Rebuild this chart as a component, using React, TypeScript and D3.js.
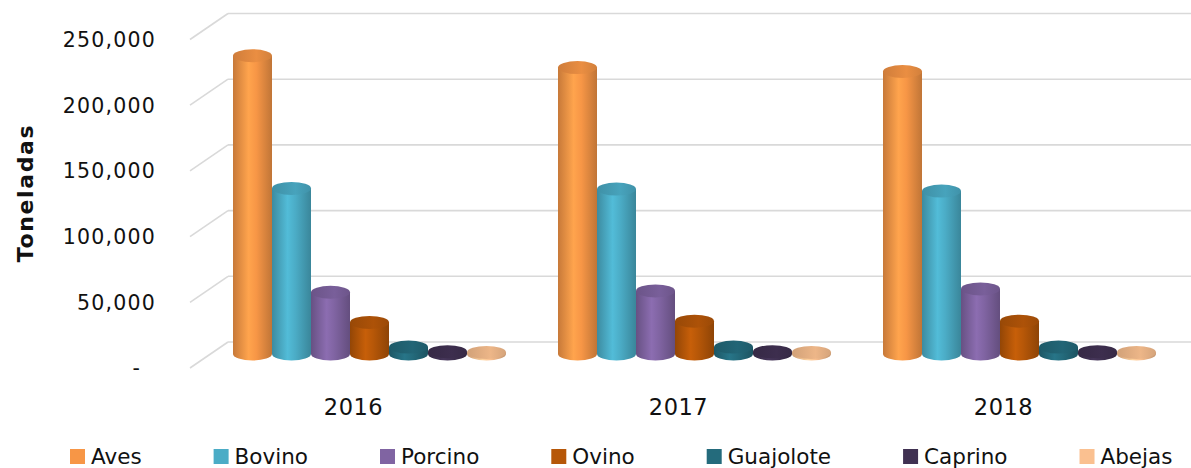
import { useLayoutEffect, useRef, useState } from "react";
import * as d3 from "d3";

const W = 1191;
const H = 468;
const FONT = "DejaVu Sans, Verdana, sans-serif";

const years = ["2016", "2017", "2018"];
const species = ["Aves", "Bovino", "Porcino", "Ovino", "Guajolote", "Caprino", "Abejas"];
const colors = ["#f79646", "#4bacc6", "#8064a2", "#b65708", "#246b7c", "#403152", "#fac090"];

// tons per species, one array per year
const values2016 = [227000, 126000, 47000, 24000, 5300, 1800, 1200];
const values2017 = [218000, 125500, 48000, 25000, 5300, 1800, 1200];
const values2018 = [215000, 124000, 49500, 25000, 5300, 1800, 1200];
const valuesByYear = [values2016, values2017, values2018];

const yTicks = [0, 50000, 100000, 150000, 200000, 250000];

// pseudo 3d frame
const DEPTH_X = 38;
const DEPTH_Y = 26;
const BACK_LEFT = 228;
const BAR_SHIFT = 12; // bars stand in the middle of the floor
const RY = 6.5;

const App = () => {
  const y = d3.scaleLinear().domain([0, 250000]).range([342, 13.5]);
  const x0 = d3.scaleBand().domain(years).range([207, 1182]).paddingInner(0.16).paddingOuter(0.08);
  const x1 = d3.scaleBand().domain(species).range([0, x0.bandwidth()]);
  const fmt = d3.format(",");

  const textRefs = useRef<(SVGTextElement | null)[]>([]);
  const [widths, setWidths] = useState<number[]>(species.map((s) => s.length * 13));

  useLayoutEffect(() => {
    const w = textRefs.current.map((t, i) => (t ? t.getComputedTextLength() : widths[i]));
    setWidths(w);
  }, []);

  const legendPos: number[] = [];
  let cx = 70;
  species.forEach((s, i) => {
    legendPos.push(cx);
    cx += 15 + 6 + widths[i] + 72;
  });

  const rx = x1.bandwidth() / 2;

  return (
    <svg width={W} height={H} style={{ position: "absolute", left: 0, top: 0, background: "#fff" }}>
      <defs>
        {colors.map((c, i) => {
          const base = d3.color(c)!;
          return (
            <g key={i}>
              <linearGradient id={`body${i}`} x1="0" x2="1" y1="0" y2="0">
                <stop offset="0%" stopColor={base.darker(0.6).formatHex()} />
                <stop offset="40%" stopColor={base.brighter(0.25).formatHex()} />
                <stop offset="60%" stopColor={base.formatHex()} />
                <stop offset="100%" stopColor={base.darker(0.7).formatHex()} />
              </linearGradient>
              <linearGradient id={`top${i}`} x1="0" x2="1" y1="0" y2="0">
                <stop offset="0%" stopColor={base.darker(0.5).formatHex()} />
                <stop offset="60%" stopColor={base.darker(0.15).formatHex()} />
                <stop offset="100%" stopColor={base.darker(0.45).formatHex()} />
              </linearGradient>
            </g>
          );
        })}
      </defs>

      {/* gridlines: back wall + side wall */}
      {yTicks.map((t) => (
        <g key={t} stroke="#d9d9d9" strokeWidth={1.6} fill="none">
          <line x1={BACK_LEFT} x2={W} y1={y(t)} y2={y(t)} />
          <line x1={BACK_LEFT - DEPTH_X} y1={y(t) + DEPTH_Y} x2={BACK_LEFT} y2={y(t)} />
        </g>
      ))}

      {/* y tick labels */}
      {yTicks.map((t) => (
        <text
          key={t}
          x={t === 0 ? 141 : 156}
          y={y(t) + DEPTH_Y}
          dy="0.36em"
          textAnchor="end"
          fontFamily={FONT}
          fontSize={20.5}
          letterSpacing={1.2}
          fill="#111"
        >
          {t === 0 ? "-" : fmt(t)}
        </text>
      ))}

      <text
        transform="translate(33,193) rotate(-90)"
        textAnchor="middle"
        fontFamily={FONT}
        fontWeight="bold"
        fontSize={22}
        letterSpacing={1.6}
        fill="#111"
      >
        Toneladas
      </text>

      {/* cylinders */}
      {years.map((yr, gi) => (
        <g key={yr} transform={`translate(${x0(yr)},0)`}>
          {species.map((s, i) => {
            const v = valuesByYear[gi][i];
            const xl = x1(s)!;
            const xr = xl + x1.bandwidth();
            const yb = y(0) + BAR_SHIFT;
            const yt = y(v) + BAR_SHIFT;
            const body = `M${xl},${yt} L${xl},${yb} A${rx},${RY} 0 0 0 ${xr},${yb} L${xr},${yt} Z`;
            return (
              <g key={s}>
                <path d={body} fill={`url(#body${i})`} />
                <ellipse cx={xl + rx} cy={yt} rx={rx} ry={RY} fill={`url(#top${i})`} />
              </g>
            );
          })}
        </g>
      ))}

      {/* year labels */}
      {years.map((yr) => (
        <text
          key={yr}
          x={x0(yr)! + x0.bandwidth() / 2 - 16}
          y={415}
          textAnchor="middle"
          fontFamily={FONT}
          fontSize={22.5}
          letterSpacing={0.5}
          fill="#111"
        >
          {yr}
        </text>
      ))}

      {/* legend */}
      {species.map((s, i) => (
        <g key={s} transform={`translate(${legendPos[i]},449)`}>
          <rect width={15} height={15} fill={colors[i]} />
          <text
            ref={(el) => {
              textRefs.current[i] = el;
            }}
            x={21}
            y={15}
            fontFamily={FONT}
            fontSize={21.5}
            fill="#111"
          >
            {s}
          </text>
        </g>
      ))}
    </svg>
  );
};

export default App;
